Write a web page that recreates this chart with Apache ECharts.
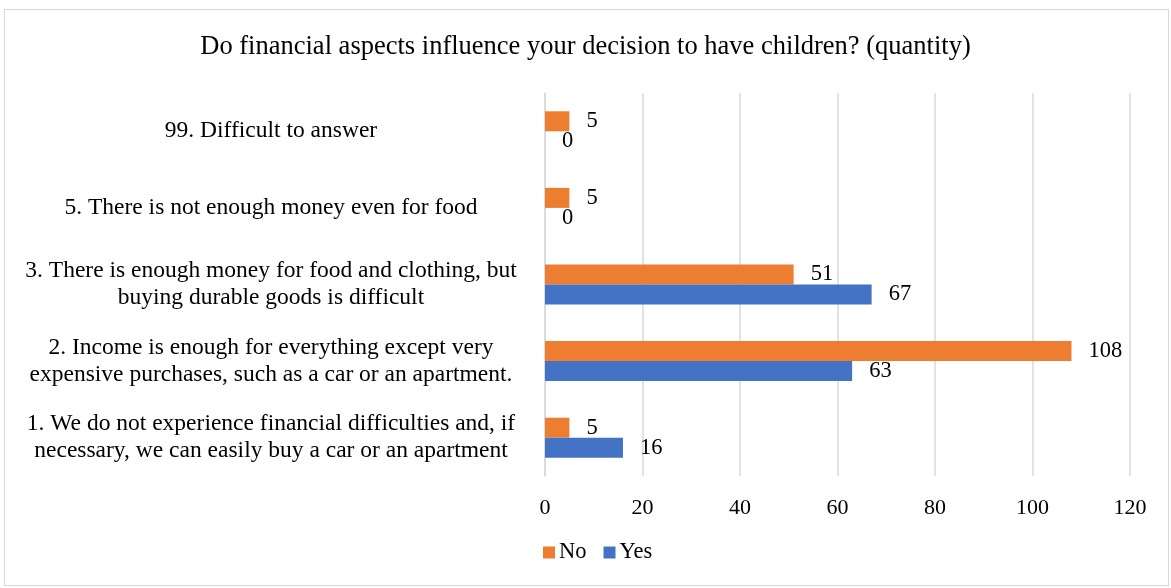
<!DOCTYPE html>
<html>
<head>
<meta charset="utf-8">
<script src="https://cdn.jsdelivr.net/npm/echarts@6/dist/echarts.min.js"></script>
<style>
  html, body { margin: 0; padding: 0; background: #fff; }
  #frame { position: absolute; left: 4px; top: 9px; width: 1165px; height: 577px; box-sizing: border-box; border: 1.5px solid #d9d9d9; }
  #chart { position: absolute; left: 0; top: 0; width: 1171px; height: 588px; }
</style>
</head>
<body>
<div id="frame"></div>
<div id="chart"></div>
<script>
// Answer categories, bottom to top
const categories = [
  '1. We do not experience financial difficulties and, if\nnecessary, we can easily buy a car or an apartment',
  '2. Income is enough for everything except very\nexpensive purchases, such as a car or an apartment.',
  '3. There is enough money for food and clothing, but\nbuying durable goods is difficult',
  '5. There is not enough money even for food',
  '99. Difficult to answer'
];
const noValues = [5, 108, 51, 5, 5];
const yesValues = [16, 63, 67, 0, 0];
const xTicks = { min: 0, max: 120, interval: 20 };

const font = '"Liberation Serif", "Times New Roman", serif';
const chart = echarts.init(document.getElementById('chart'));

const labelStyle = {
  show: true,
  position: 'right',
  distance: 17,
  color: '#000',
  fontFamily: font,
  fontSize: 22.5
};

chart.setOption({
  animation: false,
  title: {
    text: 'Do financial aspects influence your decision to have children? (quantity)',
    left: 'center',
    top: 29,
    textStyle: { fontFamily: font, fontSize: 26.5, fontWeight: 'normal', color: '#000' }
  },
  legend: {
    data: ['No', 'Yes'],
    bottom: 19,
    left: 538,
    itemWidth: 12,
    itemHeight: 12,
    itemGap: 17,
    icon: 'rect',
    textStyle: { fontFamily: font, fontSize: 22.5, color: '#000', padding: [0, 0, 0, -1] }
  },
  grid: { left: 545, right: 41, top: 93, bottom: 112, containLabel: false },
  xAxis: {
    type: 'value',
    min: xTicks.min,
    max: xTicks.max,
    interval: xTicks.interval,
    axisLine: { show: false },
    axisTick: { show: false },
    splitLine: { lineStyle: { color: '#d9d9d9', width: 1.5 } },
    axisLabel: { fontFamily: font, fontSize: 22, color: '#000', margin: 21 }
  },
  yAxis: {
    type: 'category',
    data: categories,
    axisLine: { show: true, lineStyle: { color: '#d9d9d9', width: 1.5 } },
    axisTick: { show: false },
    axisLabel: {
      fontFamily: font,
      fontSize: 23.5,
      color: '#000',
      align: 'center',
      margin: 274,
      lineHeight: 27
    }
  },
  series: [
    {
      name: 'No',
      type: 'bar',
      data: noValues,
      barWidth: 20,
      barGap: '0%',
      itemStyle: { color: '#ED7D31' },
      label: labelStyle
    },
    {
      name: 'Yes',
      type: 'bar',
      data: yesValues,
      barWidth: 20,
      barGap: '0%',
      itemStyle: { color: '#4472C4' },
      label: labelStyle
    }
  ]
});
</script>
</body>
</html>
